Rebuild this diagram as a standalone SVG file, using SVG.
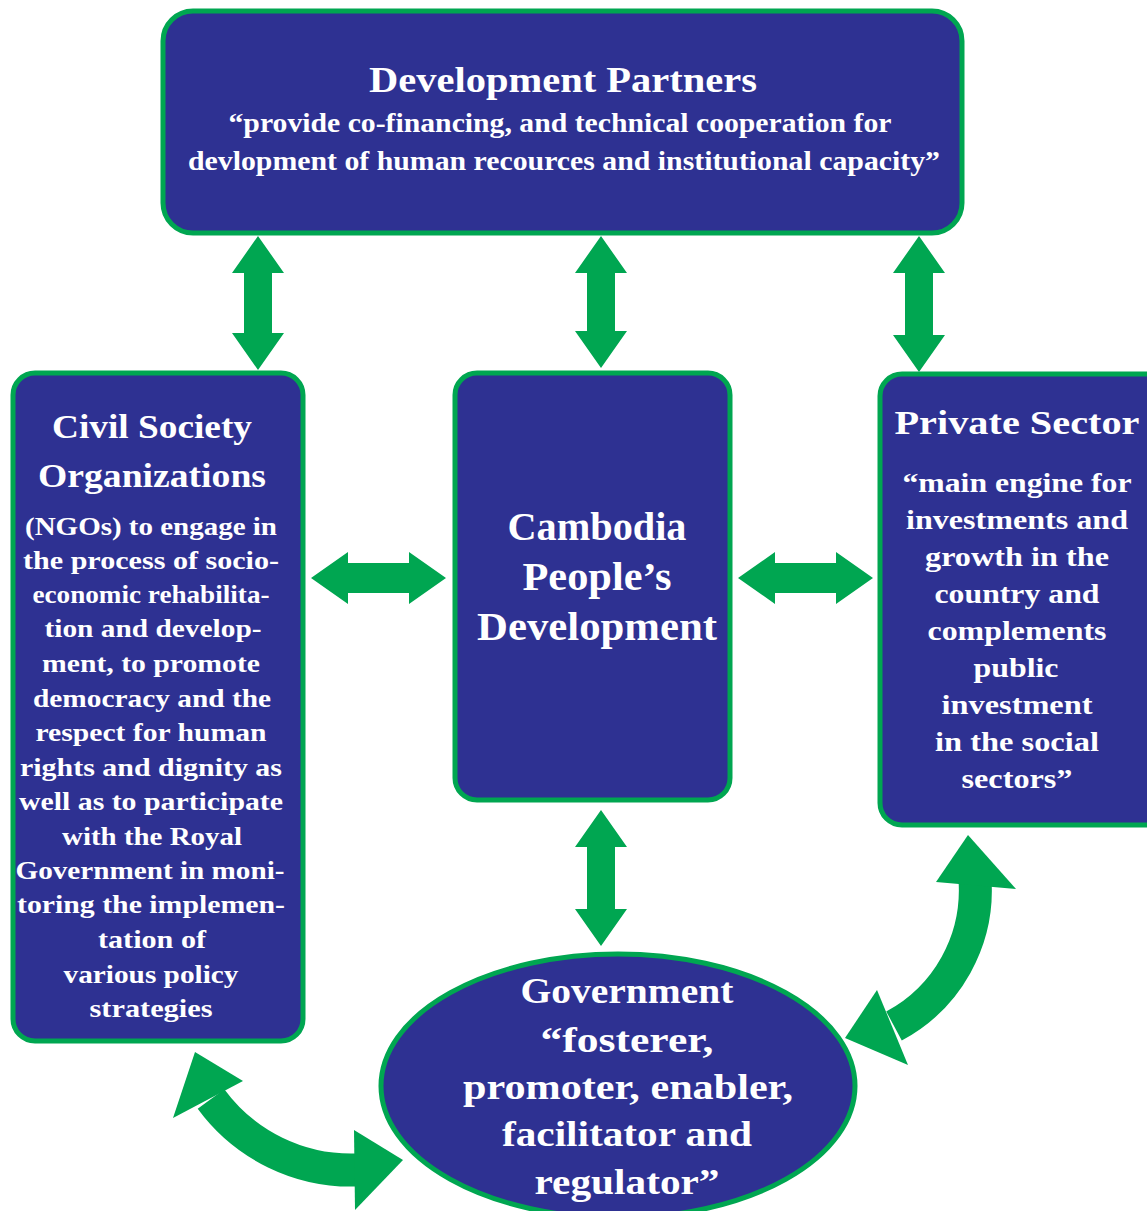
<svg xmlns="http://www.w3.org/2000/svg" width="1147" height="1211" viewBox="0 0 1147 1211">
<style>
.box{fill:#2e3192;stroke:#00a651;stroke-width:5}
.t{fill:#ffffff;font-family:"Liberation Serif","Times New Roman",serif;font-weight:bold;text-anchor:middle}
.arr{fill:#00a651}
.arc{fill:none;stroke:#00a651;stroke-width:33}
</style>
<rect width="1147" height="1211" fill="#ffffff"/>
<g id="connectors">
<polygon class="arr" points="258,236 284,273 272,273 272,333 284,333 258,370 232,333 244,333 244,273 232,273"/>
<polygon class="arr" points="601,236 627,273 615,273 615,331 627,331 601,368 575,331 587,331 587,273 575,273"/>
<polygon class="arr" points="919,236 945,273 933,273 933,335 945,335 919,372 893,335 905,335 905,273 893,273"/>
<polygon class="arr" points="601,810 627,847 615,847 615,909 627,909 601,946 575,909 587,909 587,847 575,847"/>
<polygon class="arr" points="311,578 348,552 348,563 409,563 409,552 446,578 409,604 409,593 348,593 348,604"/>
<polygon class="arr" points="738,578 775,552 775,563 836,563 836,552 873,578 836,604 836,593 775,593 775,604"/>
<path class="arc" d="M211,1099 A174,174 0 0 0 357,1170"/>
<polygon class="arr" points="195,1052 243,1081 173,1118"/>
<polygon class="arr" points="403,1160 354,1130 355,1210"/>
<path class="arc" d="M975,880 A154,154 0 0 1 894,1026"/>
<polygon class="arr" points="968,835 1016,889 936,882"/>
<polygon class="arr" points="845,1038 877,990 908,1065"/>
</g>
<g id="development-partners">
<rect class="box" x="163" y="11" width="799" height="222" rx="30"/>
<text class="t" x="563" y="92" font-size="36" textLength="388" lengthAdjust="spacingAndGlyphs">Development Partners</text>
<text class="t" x="560" y="132" font-size="27" textLength="663" lengthAdjust="spacingAndGlyphs">“provide co-financing, and technical cooperation for</text>
<text class="t" x="564" y="170" font-size="27" textLength="752" lengthAdjust="spacingAndGlyphs">devlopment of human recources and institutional capacity”</text>
</g>
<g id="civil-society">
<rect class="box" x="13" y="373" width="290" height="668" rx="22"/>
<text class="t" x="152" y="438" font-size="34" textLength="200" lengthAdjust="spacingAndGlyphs">Civil Society</text>
<text class="t" x="152" y="487" font-size="34" textLength="228" lengthAdjust="spacingAndGlyphs">Organizations</text>
<g font-size="26">
<text class="t" x="151" y="535" textLength="252" lengthAdjust="spacingAndGlyphs">(NGOs) to engage in</text>
<text class="t" x="151" y="569" textLength="256" lengthAdjust="spacingAndGlyphs">the process of socio-</text>
<text class="t" x="151" y="603" textLength="237" lengthAdjust="spacingAndGlyphs">economic rehabilita-</text>
<text class="t" x="153" y="637" textLength="217" lengthAdjust="spacingAndGlyphs">tion and develop-</text>
<text class="t" x="151" y="672" textLength="218" lengthAdjust="spacingAndGlyphs">ment, to promote</text>
<text class="t" x="152" y="707" textLength="238" lengthAdjust="spacingAndGlyphs">democracy and the</text>
<text class="t" x="151" y="741" textLength="231" lengthAdjust="spacingAndGlyphs">respect for human</text>
<text class="t" x="151" y="776" textLength="262" lengthAdjust="spacingAndGlyphs">rights and dignity as</text>
<text class="t" x="151" y="810" textLength="264" lengthAdjust="spacingAndGlyphs">well as to participate</text>
<text class="t" x="152" y="845" textLength="180" lengthAdjust="spacingAndGlyphs">with the Royal</text>
<text class="t" x="150" y="879" textLength="269" lengthAdjust="spacingAndGlyphs">Government in moni-</text>
<text class="t" x="151" y="913" textLength="268" lengthAdjust="spacingAndGlyphs">toring the implemen-</text>
<text class="t" x="152" y="948" textLength="108" lengthAdjust="spacingAndGlyphs">tation of</text>
<text class="t" x="151" y="983" textLength="175" lengthAdjust="spacingAndGlyphs">various policy</text>
<text class="t" x="151" y="1017" textLength="123" lengthAdjust="spacingAndGlyphs">strategies</text>
</g>
</g>
<g id="cambodia-development">
<rect class="box" x="455" y="373" width="275" height="427" rx="22" stroke-width="8"/>
<text class="t" x="597" y="540" font-size="40" textLength="179" lengthAdjust="spacingAndGlyphs">Cambodia</text>
<text class="t" x="597" y="590" font-size="40" textLength="149" lengthAdjust="spacingAndGlyphs">People’s</text>
<text class="t" x="597" y="640" font-size="40" textLength="240" lengthAdjust="spacingAndGlyphs">Development</text>
</g>
<g id="private-sector">
<rect class="box" x="880" y="374" width="290" height="451" rx="22"/>
<text class="t" x="1017" y="434" font-size="34" textLength="245" lengthAdjust="spacingAndGlyphs">Private Sector</text>
<g font-size="27">
<text class="t" x="1017" y="492" textLength="229" lengthAdjust="spacingAndGlyphs">“main engine for</text>
<text class="t" x="1017" y="529" textLength="222" lengthAdjust="spacingAndGlyphs">investments and</text>
<text class="t" x="1017" y="566" textLength="184" lengthAdjust="spacingAndGlyphs">growth in the</text>
<text class="t" x="1017" y="603" textLength="165" lengthAdjust="spacingAndGlyphs">country and</text>
<text class="t" x="1017" y="640" textLength="179" lengthAdjust="spacingAndGlyphs">complements</text>
<text class="t" x="1016" y="677" textLength="85" lengthAdjust="spacingAndGlyphs">public</text>
<text class="t" x="1017" y="714" textLength="151" lengthAdjust="spacingAndGlyphs">investment</text>
<text class="t" x="1017" y="751" textLength="164" lengthAdjust="spacingAndGlyphs">in the social</text>
<text class="t" x="1017" y="788" textLength="111" lengthAdjust="spacingAndGlyphs">sectors”</text>
</g>
</g>
<g id="government">
<ellipse class="box" cx="618" cy="1086" rx="237" ry="132" stroke-width="4"/>
<g font-size="36">
<text class="t" x="627" y="1003" textLength="213" lengthAdjust="spacingAndGlyphs">Government</text>
<text class="t" x="627" y="1052" textLength="173" lengthAdjust="spacingAndGlyphs">“fosterer,</text>
<text class="t" x="628" y="1099" textLength="330" lengthAdjust="spacingAndGlyphs">promoter, enabler,</text>
<text class="t" x="627" y="1146" textLength="250" lengthAdjust="spacingAndGlyphs">facilitator and</text>
<text class="t" x="627" y="1194" textLength="185" lengthAdjust="spacingAndGlyphs">regulator”</text>
</g>
</g>
</svg>
